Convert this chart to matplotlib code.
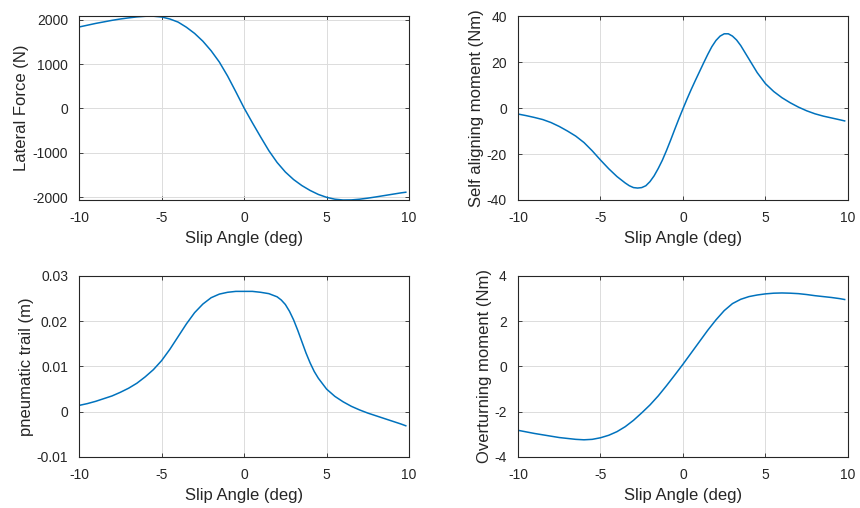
import numpy as np
import matplotlib
matplotlib.use("Agg")
import matplotlib.pyplot as plt

plt.rcParams['font.family'] = ['Liberation Sans', 'DejaVu Sans']
plt.rcParams['axes.unicode_minus'] = False

# lateral force (N) vs slip angle (deg)
fy_x = [-10, -9.5, -9, -8.5, -8, -7.5, -7, -6.5, -6, -5.75, -5.5, -5, -4.5, -4, -3.5,
        -3, -2.5, -2, -1.5, -1, -0.5, 0, 0.5, 1, 1.5, 2, 2.5, 3, 3.5, 4, 4.5, 5,
        5.5, 6, 6.5, 7, 7.5, 8, 8.5, 9, 9.5, 9.8]
fy = [1835, 1875, 1915, 1950, 1985, 2015, 2040, 2062, 2076, 2080, 2078, 2060, 2015,
      1945, 1830, 1690, 1515, 1300, 1045, 730, 375, 10, -320, -640, -950, -1215,
      -1430, -1600, -1735, -1845, -1935, -2000, -2042, -2060, -2058, -2042, -2018,
      -1990, -1960, -1930, -1900, -1885]

# self aligning moment (Nm)
mz_x = [-10, -9.5, -9, -8.5, -8, -7.5, -7, -6.5, -6, -5.5, -5, -4.5, -4, -3.5, -3.25,
        -3, -2.75, -2.5, -2.25, -2, -1.75, -1.5, -1.25, -1, -0.75, -0.5, -0.25, 0,
        0.25, 0.5, 0.75, 1, 1.25, 1.5, 1.75, 2, 2.25, 2.5, 2.75, 3, 3.25, 3.5, 4,
        4.5, 5, 5.5, 6, 6.5, 7, 7.5, 8, 8.5, 9, 9.5, 9.8]
mz = [-2.6, -3.3, -4.1, -5.0, -6.3, -8.0, -10.0, -12.2, -15.0, -18.6, -22.6, -26.4,
      -29.8, -32.6, -33.8, -34.6, -34.8, -34.6, -33.8, -32.0, -29.5, -26.3, -22.7,
      -18.5, -14.0, -9.3, -4.7, -0.3, 4.0, 8.1, 12.0, 15.8, 19.6, 23.3, 26.7, 29.4,
      31.3, 32.3, 32.3, 31.3, 29.6, 27.2, 21.3, 15.4, 10.6, 7.2, 4.5, 2.3, 0.4,
      -1.2, -2.5, -3.5, -4.3, -5.1, -5.6]

# pneumatic trail (m)
tr_x = [-10, -9.5, -9, -8.5, -8, -7.5, -7, -6.5, -6, -5.5, -5, -4.5, -4, -3.5, -3,
        -2.5, -2, -1.5, -1, -0.5, 0, 0.5, 1, 1.5, 2, 2.25, 2.5, 2.75, 3, 3.25, 3.5,
        3.75, 4, 4.25, 4.5, 5, 5.5, 6, 6.5, 7, 7.5, 8, 8.5, 9, 9.5, 9.8]
trail = [0.0014, 0.0018, 0.0023, 0.0029, 0.0035, 0.0043, 0.0052, 0.0063, 0.0077,
         0.0093, 0.0113, 0.0138, 0.0166, 0.0194, 0.0219, 0.0238, 0.0252, 0.0260,
         0.0264, 0.0266, 0.0266, 0.0266, 0.0264, 0.0261, 0.0254, 0.0247, 0.0237,
         0.0222, 0.0203, 0.0180, 0.0155, 0.0130, 0.0108, 0.0089, 0.0074, 0.0050,
         0.0034, 0.0022, 0.0012, 0.0004, -0.0003, -0.0009, -0.0015, -0.0021,
         -0.0027, -0.0031]

# overturning moment (Nm)
mx_x = [-10, -9.5, -9, -8.5, -8, -7.5, -7, -6.5, -6, -5.5, -5, -4.5, -4, -3.5, -3,
        -2.5, -2, -1.5, -1, -0.5, 0, 0.5, 1, 1.5, 2, 2.5, 3, 3.5, 4, 4.5, 5, 5.5, 6,
        6.5, 7, 7.5, 8, 8.5, 9, 9.5, 9.8]
mx = [-2.82, -2.89, -2.96, -3.02, -3.08, -3.14, -3.18, -3.22, -3.24, -3.22, -3.15,
      -3.04, -2.88, -2.66, -2.38, -2.05, -1.70, -1.30, -0.85, -0.38, 0.10, 0.60,
      1.10, 1.60, 2.06, 2.47, 2.78, 2.97, 3.09, 3.16, 3.21, 3.24, 3.25, 3.24, 3.22,
      3.18, 3.13, 3.09, 3.05, 3.00, 2.96]

panels = [
    (fy_x, fy, 'Lateral Force (N)', (min(fy), max(fy)), [-2000, -1000, 0, 1000, 2000],
     [0.092, 0.6063, 0.3837, 0.362]),
    (mz_x, mz, 'Self aligning moment (Nm)', (-40, 40), [-40, -20, 0, 20, 40],
     [0.6023, 0.6063, 0.3837, 0.362]),
    (tr_x, trail, 'pneumatic trail (m)', (-0.01, 0.03), [-0.01, 0, 0.01, 0.02, 0.03],
     [0.092, 0.1004, 0.3837, 0.3563]),
    (mx_x, mx, 'Overturning moment (Nm)', (-4, 4), [-4, -2, 0, 2, 4],
     [0.6023, 0.1004, 0.3837, 0.3563]),
]

dark = '#262626'
fig = plt.figure(figsize=(8.6, 5.08), dpi=100)
for xs, vals, ylab, ylim, yt, pos in panels:
    ax = fig.add_axes(pos)
    ax.plot(xs, vals, color='#0072BD', lw=1.1)
    ax.set_xlim(-10, 10)
    ax.set_ylim(*ylim)
    ax.set_xticks([-10, -5, 0, 5, 10])
    ax.set_yticks(yt)
    ax.set_yticklabels([('%g' % v) for v in yt])
    ax.grid(True, color='#dcdcdc', lw=0.7)
    ax.set_axisbelow(True)
    ax.tick_params(direction='in', length=3, width=0.6, colors=dark,
                   top=True, right=True, labelsize=10, pad=8)
    for s in ax.spines.values():
        s.set_color(dark)
        s.set_linewidth(0.8)
    ax.set_xlabel('Slip Angle (deg)', color=dark, fontsize=12, labelpad=4)
    ax.set_ylabel(ylab, color=dark, fontsize=12, labelpad=2)

fig.savefig('out.png', dpi=100)
